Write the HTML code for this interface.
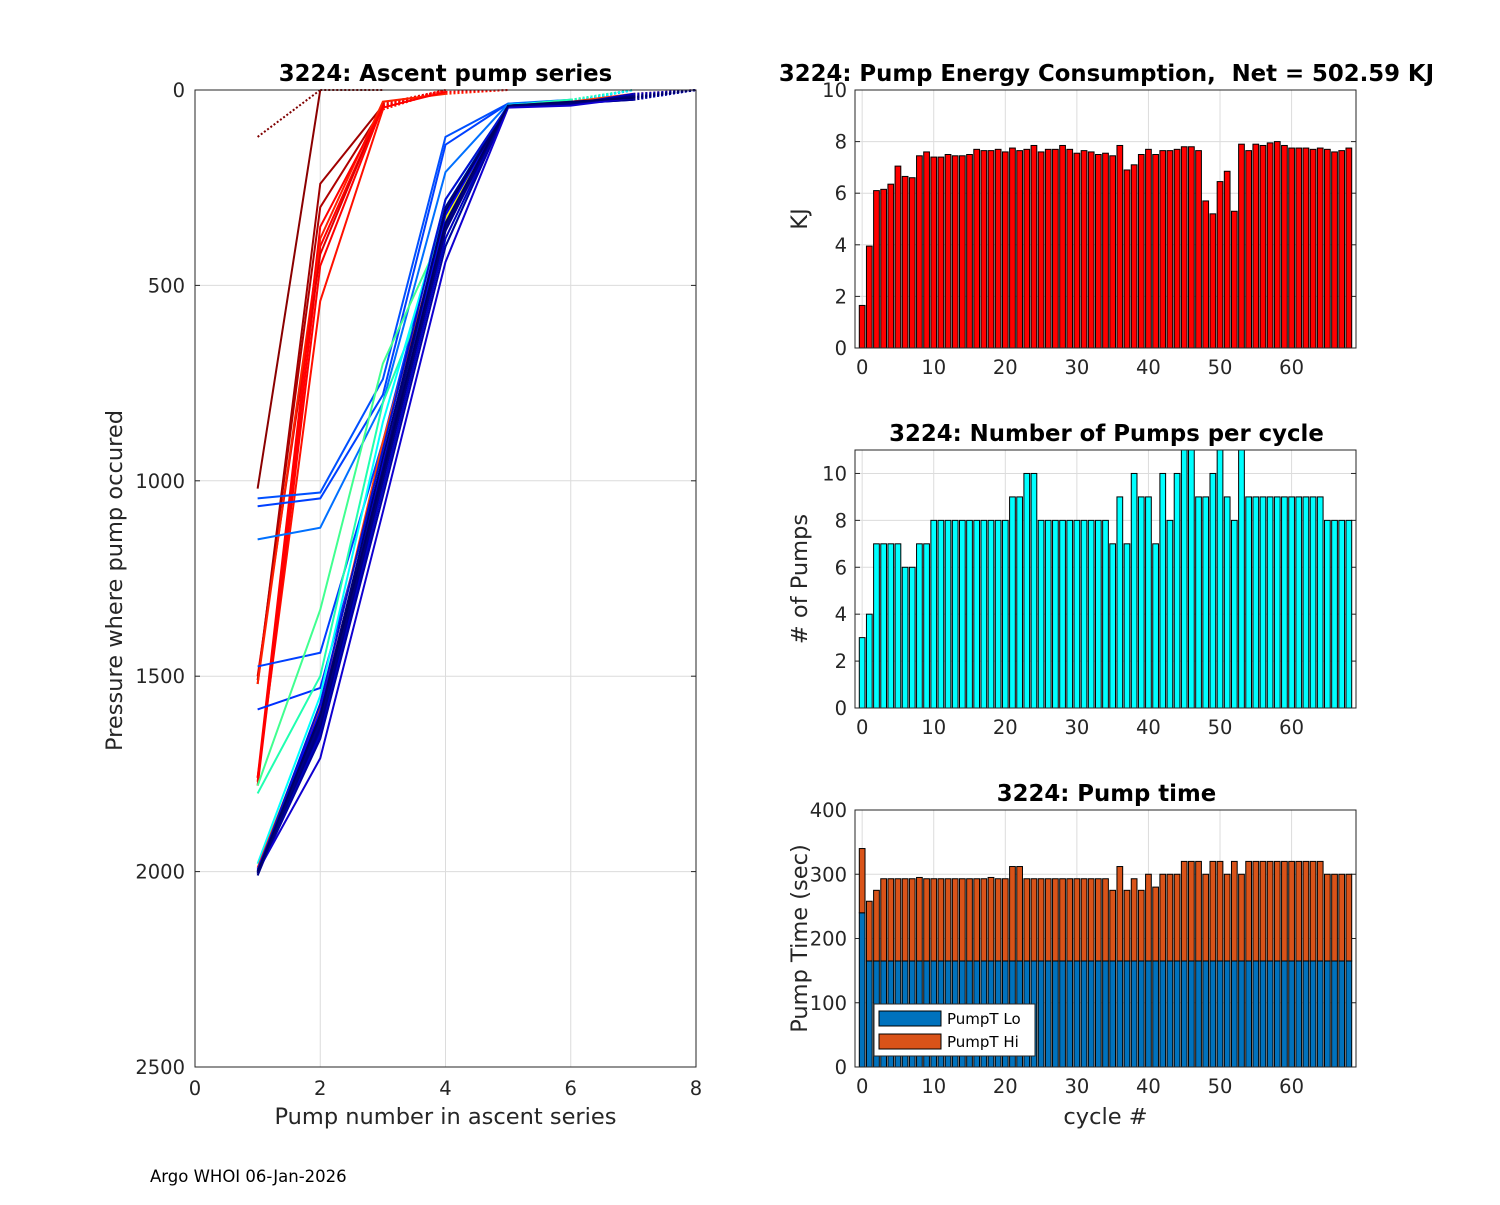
<!DOCTYPE html>
<html><head><meta charset="utf-8"><style>
body{margin:0;background:#fff;}
svg{font-family:"DejaVu Sans","Liberation Sans",sans-serif;}
text{white-space:pre;}
</style></head><body>
<svg id="fig" width="1500" height="1200" viewBox="0 0 1500 1200" xmlns="http://www.w3.org/2000/svg">
<defs><clipPath id="lclip"><rect x="195" y="88" width="502" height="980"/></clipPath></defs>
<rect width="1500" height="1200" fill="#fff"/>
<g id="left"></g>
<g id="energy"></g>
<g id="pumps"></g>
<g id="ptime"></g>
<text x="150" y="1182" font-size="16.5" fill="#000">Argo WHOI 06-Jan-2026</text>
</svg>
<script>
const energyVals=[1.65,3.95,6.1,6.15,6.35,7.05,6.65,6.6,7.45,7.6,7.4,7.4,7.5,7.45,7.45,7.5,7.7,7.65,7.65,7.7,7.6,7.75,7.65,7.7,7.85,7.6,7.7,7.7,7.85,7.7,7.55,7.65,7.6,7.5,7.55,7.45,7.85,6.9,7.1,7.5,7.7,7.5,7.65,7.65,7.7,7.8,7.8,7.65,5.7,5.2,6.45,6.85,5.3,7.9,7.65,7.9,7.85,7.95,8.0,7.85,7.75,7.75,7.75,7.7,7.75,7.7,7.6,7.65,7.75];
const pumpCounts=[3,4,7,7,7,7,6,6,7,7,8,8,8,8,8,8,8,8,8,8,8,9,9,10,10,8,8,8,8,8,8,8,8,8,8,7,9,7,10,9,9,7,10,8,10,11,11,9,9,10,11,9,8,11,9,9,9,9,9,9,9,9,9,9,9,8,8,8,8];
const timeLo=[240,165,165,165,165,165,165,165,165,165,165,165,165,165,165,165,165,165,165,165,165,165,165,165,165,165,165,165,165,165,165,165,165,165,165,165,165,165,165,165,165,165,165,165,165,165,165,165,165,165,165,165,165,165,165,165,165,165,165,165,165,165,165,165,165,165,165,165,165];
const timeTotal=[340,258,275,293,293,293,293,293,295,293,293,293,293,293,293,293,293,293,295,293,293,312,312,293,293,293,293,293,293,293,293,293,293,293,293,275,312,275,293,275,300,280,300,300,300,320,320,320,300,320,320,300,320,300,320,320,320,320,320,320,320,320,320,320,320,300,300,300,300];
const profiles=[
[120],[1020,0],[1520,240,40],[1510,300,45],[1770,400,40],[1760,540,50],[1500,420,35],[1780,450,40],[1520,380,30,10],[1760,350,45,5],
[1045,1030,740,120,35,30],[1065,1045,780,140,35,30],[1150,1120,800,210,35,25],[1475,1440,900,280,40,30],[1585,1530,950,300,40,30],
[1780,1330,700,350,40,25],[1800,1500,800,400,40,25],[1980,1550,850,300,38,30],[1990,1580,900,330,40,30,10],[2000,1600,950,330,40,35,20],
[2000,1620,980,340,42,35,20],[1995,1590,960,320,40,35,25],[2005,1640,1000,360,42,38,15],[2000,1610,970,300,40,35,20],[2005,1650,1020,380,42,36,10],
[2000,1600,940,310,40,35,20],[2010,1620,990,350,40,35,25],[2000,1570,920,280,40,33,20],[2005,1660,1040,400,42,38,18],[2000,1710,1080,440,45,40,20],
[2005,1630,1000,360,40,35,15],[2000,1600,980,340,40,30,20]];
const profColors=["#800000","#8b0000","#a00000","#b00000","#ff0000","#ff1000","#e00000","#ff0000","#ff2000","#ff0000",
"#0050ff","#0040ff","#0070ff","#0040ff","#0030ff","#40ff90","#20ffb0","#00ffff","#ff4000","#ffff00",
"#00c0ff","#0000ff","#000090","#000080","#0000c0","#000070","#00008b","#0010d0","#00009f","#1000d0","#000080","#000066"];
const NS="http://www.w3.org/2000/svg";
function mk(parent,tag,attrs,txt){const e=document.createElementNS(NS,tag);for(const k in attrs)e.setAttribute(k,attrs[k]);if(txt!==undefined)e.textContent=txt;parent.appendChild(e);return e;}
const TICK=19.5, TITLE=22.8, LAB=22.5;
(function(){
const g=document.getElementById('left');
const L=195,R=696,T=90,B=1067;
const xs=v=>L+(v/8)*(R-L), ys=v=>T+(v/2500)*(B-T);
mk(g,'rect',{x:L,y:T,width:R-L,height:B-T,fill:'#fff'});
for(let v=0;v<=8;v+=2){let e=mk(g,'line',{x1:xs(v),x2:xs(v),y1:T,y2:B,stroke:'#dcdcdc','stroke-width':1});
 let t=mk(g,'text',{x:xs(v),y:B+28,'font-size':TICK,'text-anchor':'middle',fill:'#262626'},String(v));}
for(let v=0;v<=2500;v+=500){let e=mk(g,'line',{x1:L,x2:R,y1:ys(v),y2:ys(v),stroke:'#dcdcdc','stroke-width':1});
 mk(g,'line',{x1:L,x2:L+5,y1:ys(v),y2:ys(v),stroke:'#262626'});mk(g,'line',{x1:R,x2:R-5,y1:ys(v),y2:ys(v),stroke:'#262626'});
 let t=mk(g,'text',{x:L-10,y:ys(v)+7,'font-size':TICK,'text-anchor':'end',fill:'#262626'},String(v));}
const lines=mk(g,'g',{'clip-path':'url(#lclip)'});
profiles.forEach((p,i)=>{
 const pts=p.map((v,j)=>xs(j+1)+','+ys(v)).join(' ');
 if(p.length>1){const l=mk(lines,'polyline',{points:pts,fill:'none',stroke:profColors[i],'stroke-width':2});}
 const n=p.length;
 const d=mk(lines,'line',{x1:xs(n),y1:ys(p[n-1]),x2:xs(n+1),y2:ys(0),stroke:profColors[i],'stroke-width':2,'stroke-dasharray':'2,2'});
 
});
mk(g,'rect',{x:L,y:T,width:R-L,height:B-T,fill:'none',stroke:'#262626','stroke-width':1});
let t=mk(g,'text',{x:(L+R)/2,y:T-9,'font-size':TITLE,'font-weight':'bold','text-anchor':'middle'},'3224: Ascent pump series');
t=mk(g,'text',{x:(L+R)/2,y:B+57,'font-size':LAB,'text-anchor':'middle',fill:'#262626'},'Pump number in ascent series');
t=mk(g,'text',{x:0,y:0,'font-size':LAB,'text-anchor':'middle',fill:'#262626',transform:'translate(122,'+((T+B)/2+2)+') rotate(-90)'},'Pressure where pump occured');
})();
function barAxes(gid,T,B,ymax,ystep,title,ylabel,xlabel){
 const g=document.getElementById(gid);const L=855,R=1356;
 const xs=v=>L+(v+1)/70*(R-L), ys=v=>B-(v/ymax)*(B-T);
 mk(g,'rect',{x:L,y:T,width:R-L,height:B-T,fill:'#fff'});
 for(let v=0;v<=60;v+=10){let e=mk(g,'line',{x1:xs(v),x2:xs(v),y1:T,y2:B,stroke:'#dcdcdc'});
  let t=mk(g,'text',{x:xs(v),y:B+26,'font-size':TICK,'text-anchor':'middle',fill:'#262626'},String(v));}
 for(let v=0;v<=ymax;v+=ystep){let e=mk(g,'line',{x1:L,x2:R,y1:ys(v),y2:ys(v),stroke:'#dcdcdc'});
  mk(g,'line',{x1:L,x2:L+5,y1:ys(v),y2:ys(v),stroke:'#262626'});mk(g,'line',{x1:R,x2:R-5,y1:ys(v),y2:ys(v),stroke:'#262626'});
  let t=mk(g,'text',{x:L-8,y:ys(v)+7,'font-size':TICK,'text-anchor':'end',fill:'#262626'},String(v));}
 let t=mk(g,'text',{x:(L+R)/2+1,y:T-9,'font-size':TITLE,'font-weight':'bold','text-anchor':'middle'},title);
 t=mk(g,'text',{x:0,y:0,'font-size':LAB,'text-anchor':'middle',fill:'#262626',transform:'translate('+(L-48)+','+((T+B)/2)+') rotate(-90)'},ylabel);
 if(xlabel){t=mk(g,'text',{x:(L+R)/2,y:B+57,'font-size':LAB,'text-anchor':'middle',fill:'#262626'},xlabel);}
 return {g,xs,ys,L,R,T,B};
}
function finish(a){mk(a.g,'rect',{x:a.L,y:a.T,width:a.R-a.L,height:a.B-a.T,fill:'none',stroke:'#262626'});}
const bw=0.8*501/70;
(function(){const a=barAxes('energy',90,348,10,2,'3224: Pump Energy Consumption,  Net = 502.59 KJ','KJ');
 energyVals.forEach((v,i)=>{const r=mk(a.g,'rect',{x:a.xs(i)-bw/2,y:a.ys(v),width:bw,height:a.ys(0)-a.ys(v),fill:'#ff0000',stroke:'#000','stroke-width':1});});
 finish(a);})();
(function(){const a=barAxes('pumps',450,708,11,2,'3224: Number of Pumps per cycle','# of Pumps');
 pumpCounts.forEach((v,i)=>{const r=mk(a.g,'rect',{x:a.xs(i)-bw/2,y:a.ys(v),width:bw,height:a.ys(0)-a.ys(v),fill:'#00ffff',stroke:'#000','stroke-width':1});});
 finish(a);})();
(function(){const a=barAxes('ptime',810,1067,400,100,'3224: Pump time','Pump Time (sec)','cycle #');
 timeTotal.forEach((v,i)=>{const lo=timeLo[i];
  const r=mk(a.g,'rect',{x:a.xs(i)-bw/2,y:a.ys(lo),width:bw,height:a.ys(0)-a.ys(lo),fill:'#0072bd',stroke:'#000','stroke-width':1});
  const h=mk(a.g,'rect',{x:a.xs(i)-bw/2,y:a.ys(v),width:bw,height:a.ys(lo)-a.ys(v),fill:'#d95319',stroke:'#000','stroke-width':1});});
 finish(a);
 const lg=mk(a.g,'g',{});
 mk(lg,'rect',{x:874,y:1004,width:161,height:52,fill:'#fff',stroke:'#262626'});
 mk(lg,'rect',{x:879,y:1011,width:62,height:15,fill:'#0072bd',stroke:'#000'});
 let t=mk(lg,'text',{x:947,y:1024,'font-size':15},'PumpT Lo');
 mk(lg,'rect',{x:879,y:1034,width:62,height:15,fill:'#d95319',stroke:'#000'});
 t=mk(lg,'text',{x:947,y:1047,'font-size':15},'PumpT Hi');
})();
</script>
</body></html>
